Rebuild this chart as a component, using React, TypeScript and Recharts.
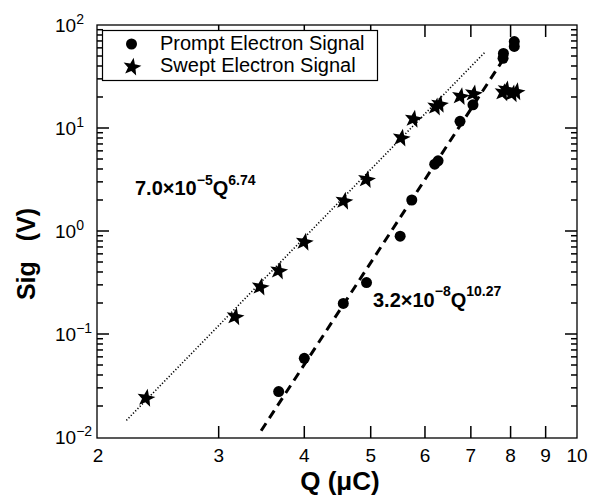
import { ComposedChart, XAxis, YAxis, Scatter, Line } from 'recharts'

// Prompt electron signal (circles), Q in µC, signal in V
const promptQ = [3.67, 4.0, 4.56, 4.93, 5.52, 5.74, 6.2, 6.27, 6.75, 7.05, 7.8, 7.81, 8.1, 8.1]
const promptSig = [0.0276, 0.058, 0.198, 0.316, 0.89, 2.0, 4.45, 4.8, 11.6, 16.8, 47.5, 53, 62, 69]

// Swept electron signal (stars)
const sweptQ = [2.35, 3.17, 3.45, 3.67, 4.0, 4.57, 4.93, 5.54, 5.77, 6.22, 6.3, 6.76, 7.06, 7.8, 7.88, 8.05, 8.15]
const sweptSig = [0.0238, 0.147, 0.286, 0.41, 0.78, 1.95, 3.16, 8.0, 12.2, 16.0, 17.0, 20.2, 21.5, 22.0, 23.5, 21.5, 22.5]

// power-law fit end points
const sweptFitQ = [2.2, 7.35]
const sweptFitSig = [0.0145, 55]
const promptFitQ = [3.46, 7.8]
const promptFitSig = [0.0115, 46]

const xTicks = [2, 3, 4, 5, 6, 7, 8, 9, 10]
const yDecades = [-2, -1, 0, 1, 2]
const X_DOMAIN = [2, 10]
const Y_DOMAIN = [0.01, 100]

const W = 592
const H = 498
const M = { top: 25, right: 15, bottom: 60, left: 97 }
const LEFT = M.left
const RIGHT = W - M.right
const TOP = M.top
const BOTTOM = H - M.bottom
const TW = 1.5 // tick thickness
const FONT = '"Liberation Sans", Arial, Helvetica, sans-serif'

const yTicks: number[] = []
yDecades.forEach((d) => {
  const base = Math.pow(10, d)
  if (d === 2) {
    yTicks.push(base)
    return
  }
  for (let k = 1; k <= 9; k++) yTicks.push(+(k * base).toPrecision(3))
})

const isDecade = (v: number) => Math.abs(Math.log10(v) - Math.round(Math.log10(v))) < 1e-6

const zip = (qs: number[], vs: number[]) => qs.map((q, i) => ({ q, sig: vs[i] }))
const promptData = zip(promptQ, promptSig)
const sweptData = zip(sweptQ, sweptSig)
const sweptFit = zip(sweptFitQ, sweptFitSig)
const promptFit = zip(promptFitQ, promptFitSig)

function starPath(cx: number, cy: number, R: number, r: number, rot = -90) {
  const pts: string[] = []
  for (let i = 0; i < 10; i++) {
    const rad = i % 2 === 0 ? R : r
    const a = ((rot + i * 36) * Math.PI) / 180
    pts.push(`${(cx + rad * Math.cos(a)).toFixed(2)},${(cy + rad * Math.sin(a)).toFixed(2)}`)
  }
  return pts.join(' ')
}

const Dot = (p: any) => <circle cx={p.cx} cy={p.cy} r={5.5} fill="#000" />
const Star = (p: any) => <polygon points={starPath(p.cx, p.cy, 9.5, 4, -80)} fill="#000" />

// x ticks: label below, short filled marks pointing in from bottom and top
const renderXTick = (p: any) => {
  const x = p.payload?.coordinate ?? p.x
  const v = p.payload.value
  const inner = v > X_DOMAIN[0] && v < X_DOMAIN[1]
  return (
    <g key={`xt-${v}`}>
      {inner && <rect x={x - TW / 2} y={BOTTOM - 12} width={TW} height={12} fill="#000" />}
      {inner && <rect x={x - TW / 2} y={TOP} width={TW} height={12} fill="#000" />}
      <text x={x} y={462} textAnchor="middle" fontFamily={FONT} fontSize={19} fill="#000">
        {v}
      </text>
    </g>
  )
}

// y ticks: long marks at decades, short in between, on both side frames
const renderYTick = (p: any) => {
  const y = p.payload?.coordinate ?? p.y
  const v = p.payload.value
  const major = isDecade(v)
  const len = major ? 12 : 6
  const inner = v > Y_DOMAIN[0] * 1.01 && v < Y_DOMAIN[1] * 0.99
  const exp = Math.round(Math.log10(v))
  return (
    <g key={`yt-${v}`}>
      {inner && <rect x={LEFT} y={y - TW / 2} width={len} height={TW} fill="#000" />}
      {inner && <rect x={RIGHT - len} y={y - TW / 2} width={len} height={TW} fill="#000" />}
      {major && (
        <text x={55} y={y + 7} fontFamily={FONT} fontSize={19} fill="#000">
          10
          <tspan dy={-8} fontSize={14}>
            {exp < 0 ? `\u2212${-exp}` : exp}
          </tspan>
        </text>
      )}
    </g>
  )
}

export default function App() {
  return (
    <div style={{ position: 'absolute', left: 0, top: 0, width: W, height: H, background: '#fff' }}>
      <ComposedChart width={W} height={H} margin={M}>
        <XAxis
          dataKey="q"
          type="number"
          scale="log"
          domain={X_DOMAIN}
          allowDataOverflow
          ticks={xTicks}
          interval={0}
          height={1}
          axisLine={false}
          tickLine={false}
          tick={renderXTick}
        />
        <YAxis
          dataKey="sig"
          type="number"
          scale="log"
          domain={Y_DOMAIN}
          allowDataOverflow
          ticks={yTicks}
          interval={0}
          width={1}
          axisLine={false}
          tickLine={false}
          tick={renderYTick}
        />
        <Line
          data={sweptFit}
          dataKey="sig"
          type="linear"
          stroke="#000"
          strokeWidth={1.6}
          strokeDasharray="1.2 2"
          dot={false}
          activeDot={false}
          isAnimationActive={false}
        />
        <Line
          data={promptFit}
          dataKey="sig"
          type="linear"
          stroke="#000"
          strokeWidth={3}
          strokeDasharray="9 6"
          dot={false}
          activeDot={false}
          isAnimationActive={false}
        />
        <Scatter data={promptData} dataKey="sig" shape={Dot} isAnimationActive={false} />
        <Scatter data={sweptData} dataKey="sig" shape={Star} isAnimationActive={false} />
      </ComposedChart>

      <svg
        width={W}
        height={H}
        style={{ position: 'absolute', left: 0, top: 0, pointerEvents: 'none' }}
        fontFamily={FONT}
      >
        {/* plot frame */}
        <rect x={LEFT} y={TOP} width={RIGHT - LEFT} height={BOTTOM - TOP} fill="none" stroke="#000" strokeWidth={1.3} />

        {/* legend */}
        <rect x={102.5} y={30.5} width={275} height={50} fill="#fff" stroke="#000" strokeWidth={1.2} />
        <circle cx={131.5} cy={44} r={5.5} fill="#000" />
        <polygon points={starPath(132, 67, 9.5, 4, -80)} fill="#000" />
        <text x={160} y={50} fontSize={20}>
          Prompt Electron Signal
        </text>
        <text x={160} y={72} fontSize={20}>
          Swept Electron Signal
        </text>

        {/* fit annotations */}
        <text x={135} y={195} fontSize={20} fontWeight="bold">
          7.0×10
          <tspan dy={-10} fontSize={14}>
            −5
          </tspan>
          <tspan dy={10}>Q</tspan>
          <tspan dy={-10} fontSize={14}>
            6.74
          </tspan>
        </text>
        <text x={373} y={307} fontSize={20} fontWeight="bold">
          3.2×10
          <tspan dy={-11} fontSize={14}>
            −8
          </tspan>
          <tspan dy={11}>Q</tspan>
          <tspan dy={-11} fontSize={14}>
            10.27
          </tspan>
        </text>

        {/* axis titles */}
        <text x={340} y={490} fontSize={26} fontWeight="bold" textAnchor="middle">
          Q (μC)
        </text>
        <text transform="translate(35,254) rotate(-90)" fontSize={25} fontWeight="bold" textAnchor="middle">
          Sig
          <tspan dx={20}>(V)</tspan>
        </text>
      </svg>
    </div>
  )
}
